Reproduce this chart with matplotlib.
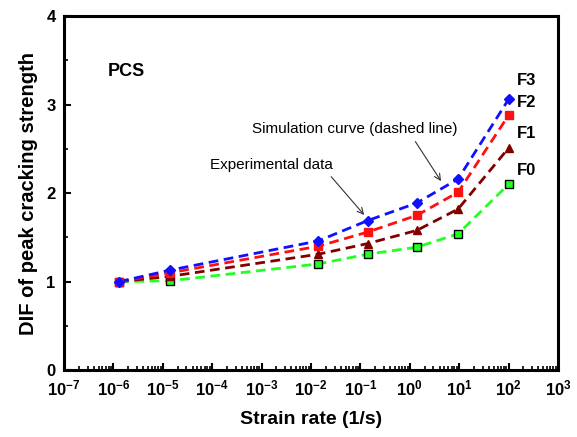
import matplotlib
matplotlib.use('Agg')
import matplotlib.pyplot as plt
import matplotlib.ticker as ticker

plt.rcParams['font.family'] = ['Liberation Sans', 'DejaVu Sans']
plt.rcParams['mathtext.fontset'] = 'custom'
plt.rcParams['mathtext.rm'] = 'Liberation Sans:bold'
plt.rcParams['mathtext.it'] = 'Liberation Sans:bold'
plt.rcParams['mathtext.bf'] = 'Liberation Sans:bold'

# strain rates of the test groups (1/s)
strain_rate = [1.3e-6, 1.4e-5, 1.4e-2, 1.4e-1, 1.4, 9.5, 100]

# DIF of peak cracking strength for each fibre content
dif_f0 = [1.00, 1.01, 1.20, 1.31, 1.39, 1.54, 2.10]
dif_f1 = [1.00, 1.06, 1.31, 1.43, 1.58, 1.82, 2.51]
dif_f2 = [1.00, 1.10, 1.40, 1.56, 1.75, 2.01, 2.88]
dif_f3 = [1.00, 1.13, 1.46, 1.69, 1.89, 2.16, 3.06]

series = [
    ('F0', dif_f0, '#22ff22', 's', 'black'),
    ('F1', dif_f1, '#800000', '^', '#800000'),
    ('F2', dif_f2, '#ff1010', 's', '#ff1010'),
    ('F3', dif_f3, '#1010ff', 'D', '#1010ff'),
]
label_y = {'F0': 2.26, 'F1': 2.67, 'F2': 3.03, 'F3': 3.27}


def pow10(val, pos):
    return r'$\mathbf{10^{%d}}$' % round(__import__('math').log10(val))


fig = plt.figure(figsize=(5.77, 4.37), dpi=100)
ax = fig.add_axes([0.111, 0.153, 0.856, 0.81])

for name, vals, col, mk, edge in series:
    ax.plot(strain_rate, vals, linestyle=(0, (3.5, 2)), color=col, linewidth=2.0, zorder=2)
    ax.plot(strain_rate, vals, linestyle='none', marker=mk, markersize=6 if mk != 'D' else 5.5,
            markerfacecolor=col, markeredgecolor=edge, markeredgewidth=1.0, zorder=3)
    ax.text(150, label_y[name], name, fontsize=12, fontweight='bold', ha='left', va='center')

ax.set_xscale('log')
ax.set_xlim(1e-7, 1e3)
ax.set_ylim(0, 4)
ax.xaxis.set_major_locator(ticker.LogLocator(base=10, numticks=20))
ax.xaxis.set_minor_locator(ticker.LogLocator(base=10, subs=range(2, 10), numticks=20))
ax.xaxis.set_major_formatter(ticker.FuncFormatter(pow10))
ax.xaxis.set_minor_formatter(ticker.NullFormatter())
ax.yaxis.set_major_locator(ticker.MultipleLocator(1))
ax.yaxis.set_minor_locator(ticker.MultipleLocator(0.5))

ax.tick_params(which='both', direction='in', top=False, right=False, labelsize=12)
ax.tick_params(which='major', length=5, width=1.5, pad=6)
ax.tick_params(which='minor', length=3, width=1.2)
for lbl in ax.get_yticklabels():
    lbl.set_fontweight('bold')
for sp in ax.spines.values():
    sp.set_linewidth(2.2)

ax.set_xlabel('Strain rate (1/s)', fontsize=14, fontweight='bold', labelpad=9)
ax.set_ylabel('DIF of peak cracking strength', fontsize=14.5, fontweight='bold', labelpad=6)

ax.text(1.85e-6, 3.37, 'PCS', fontsize=13, fontweight='bold', ha='center', va='center')

ax.annotate('Simulation curve (dashed line)', xy=(4.6, 2.11), xytext=(0.076, 2.72),
            fontsize=11, ha='center', va='center',
            arrowprops=dict(arrowstyle='->', color='#333333', lw=0.8, relpos=(0.78, 0.0)))
ax.annotate('Experimental data', xy=(0.13, 1.73), xytext=(1.6e-3, 2.32),
            fontsize=11, ha='center', va='center',
            arrowprops=dict(arrowstyle='->', color='#333333', lw=0.8, relpos=(0.95, 0.0)))

fig.savefig('out.png', dpi=100)
